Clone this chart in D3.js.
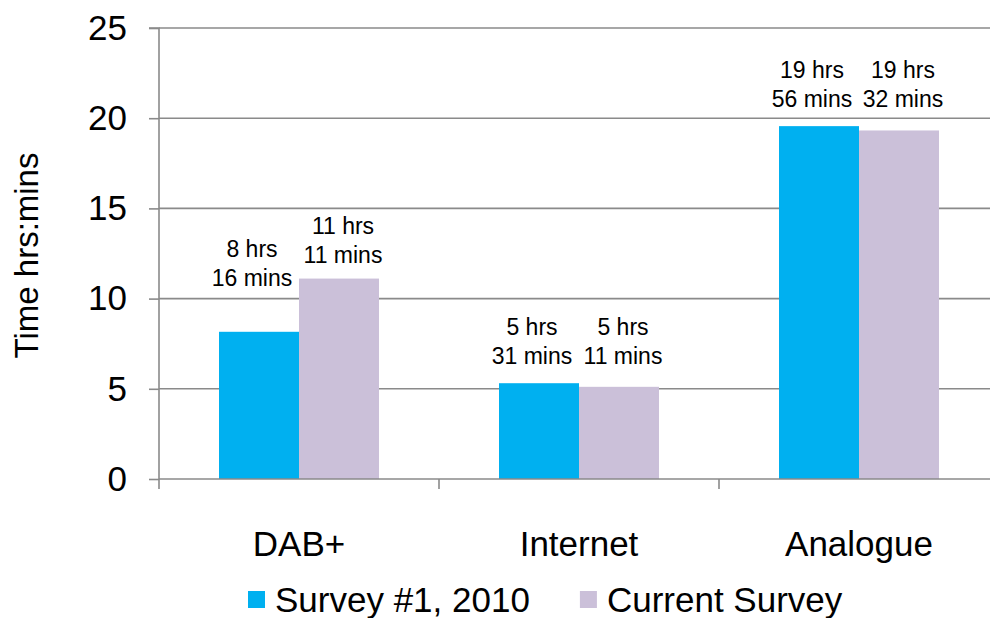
<!DOCTYPE html>
<html>
<head>
<meta charset="utf-8">
<script src="https://cdn.jsdelivr.net/npm/d3@7"></script>
<style>
  body { margin: 0; background: #fff; }
  text { font-family: "Liberation Sans", Arial, sans-serif; fill: #000; }
</style>
</head>
<body>
<script>
// chart data
const categories = ["DAB+", "Internet", "Analogue"];
const seriesNames = ["Survey #1, 2010", "Current Survey"];
const survey2010 = [8.16, 5.31, 19.56];
const currentSurvey = [11.11, 5.11, 19.32];
const survey2010Labels = [["8 hrs", "16 mins"], ["5 hrs", "31 mins"], ["19 hrs", "56 mins"]];
const currentLabels = [["11 hrs", "11 mins"], ["5 hrs", "11 mins"], ["19 hrs", "32 mins"]];
const yTicks = [0, 5, 10, 15, 20, 25];

const colors = ["#00B0F0", "#CBC0D9"];

const width = 990;
const height = 618;
const margin = {top: 28, right: -9, bottom: 139, left: 159};

const svg = d3.select("body").append("svg")
    .attr("width", width)
    .attr("height", height);

const x = d3.scaleBand().domain(categories).range([margin.left, width - margin.right]);
const xInner = d3.scaleBand().domain([0, 1]).range([0, x.bandwidth()]).paddingOuter(0.75).paddingInner(0);
const y = d3.scaleLinear().domain([0, 25]).range([height - margin.bottom, margin.top]);

// gridlines
svg.append("g").selectAll("line")
  .data(yTicks.filter(d => d > 0))
  .enter().append("line")
  .attr("x1", margin.left).attr("x2", width - margin.right)
  .attr("y1", d => y(d)).attr("y2", d => y(d))
  .attr("stroke", "#8a8a8a").attr("stroke-width", 1.6);

// bars
const rows = categories.map((c, i) => ({cat: c, vals: [survey2010[i], currentSurvey[i]], labels: [survey2010Labels[i], currentLabels[i]]}));

const groups = svg.append("g").selectAll("g")
  .data(rows)
  .enter().append("g")
  .attr("transform", d => `translate(${x(d.cat)},0)`);

groups.selectAll("rect")
  .data(d => d.vals.map((v, k) => ({v, k})))
  .enter().append("rect")
  .attr("x", d => xInner(d.k))
  .attr("width", xInner.bandwidth())
  .attr("y", d => y(d.v))
  .attr("height", d => y(0) - y(d.v))
  .attr("fill", d => colors[d.k]);

// value labels (excel spreads them a bit and drops the DAB+ 2010 one lower)
const spread = [-7, 4];
groups.each(function(d) {
  const g = d3.select(this);
  const top = y(d3.max(d.vals));
  d.labels.forEach((lines, k) => {
    let base = top - 19;
    if (d.cat === "DAB+" && k === 0) base = y(d.vals[0]) - 46;
    else if (d.cat === "DAB+") base = y(d.vals[1]) - 16;
    const cx = xInner(k) + xInner.bandwidth() / 2 + spread[k];
    const t = g.append("text")
      .attr("text-anchor", "middle")
      .style("font-size", "23px");
    t.append("tspan").attr("x", cx).attr("y", base - 29).text(lines[0]);
    t.append("tspan").attr("x", cx).attr("y", base).text(lines[1]);
  });
});

// y axis
const yAxis = svg.append("g")
  .attr("transform", `translate(${margin.left},0)`)
  .call(d3.axisLeft(y).tickValues(yTicks).tickSize(10).tickPadding(22));
yAxis.select(".domain").attr("stroke", "#8a8a8a").attr("stroke-width", 1.6).attr("d", `M-10,${y(25)}H0V${y(0)}`);
yAxis.selectAll(".tick line").attr("stroke", "#8a8a8a").attr("stroke-width", 1.6);
yAxis.selectAll(".tick text").style("font-size", "35px").style("font-family", "Liberation Sans, Arial, sans-serif").attr("fill", "#000");

// x axis
const xAxis = svg.append("g")
  .attr("transform", `translate(0,${y(0)})`)
  .call(d3.axisBottom(x).tickSize(0).tickPadding(52));
xAxis.select(".domain").attr("stroke", "#8a8a8a").attr("stroke-width", 1.6).attr("d", `M${margin.left},0H${width - margin.right}`);
xAxis.selectAll(".tick text").style("font-size", "35px").style("font-family", "Liberation Sans, Arial, sans-serif").attr("fill", "#000");
// category separators
svg.append("g").selectAll("line")
  .data(categories.concat(["end"]))
  .enter().append("line")
  .attr("x1", (d, i) => margin.left + i * x.bandwidth())
  .attr("x2", (d, i) => margin.left + i * x.bandwidth())
  .attr("y1", y(0)).attr("y2", y(0) + 10)
  .attr("stroke", "#8a8a8a").attr("stroke-width", 1.6);

// y title
svg.append("text")
  .attr("transform", `translate(38,${y(12.5) + 2}) rotate(-90)`)
  .attr("text-anchor", "middle")
  .style("font-size", "33px")
  .text("Time hrs:mins");

// legend
const legend = svg.append("g").attr("transform", "translate(248,612)");
let lx = 0;
seriesNames.forEach((name, k) => {
  legend.append("rect")
    .attr("x", lx).attr("y", -21)
    .attr("width", 17).attr("height", 17)
    .attr("fill", colors[k]);
  const t = legend.append("text")
    .attr("x", lx + 27).attr("y", 0)
    .style("font-size", "35px")
    .text(name);
  lx += 27 + t.node().getComputedTextLength() + 50;
});
</script>
</body>
</html>
